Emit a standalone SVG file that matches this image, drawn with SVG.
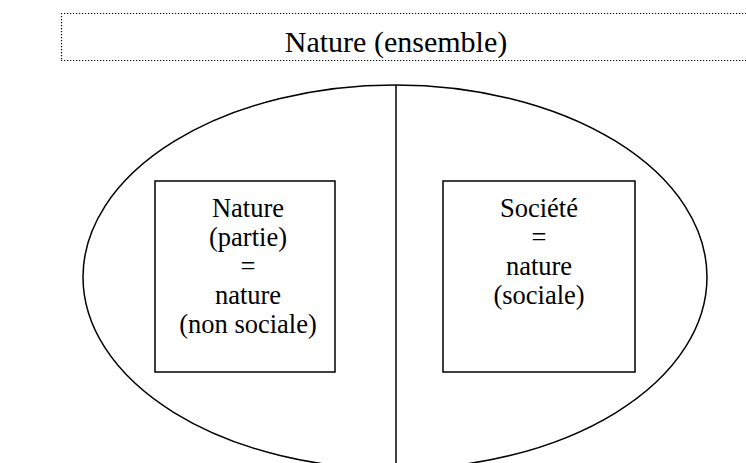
<svg xmlns="http://www.w3.org/2000/svg" width="746" height="463" viewBox="0 0 746 463">
<style>
.t{font-family:"Liberation Serif","Times New Roman","DejaVu Serif",serif;font-size:26.5px;fill:#000;text-anchor:middle}
.h{font-size:30px}
.s{fill:none;stroke:#000;stroke-width:1.5}
.d{fill:none;stroke:#000;stroke-width:1.2;stroke-dasharray:1.2 1.8}
</style>
<rect width="746" height="463" fill="#fff"/>
<g id="ensemble">
<path class="d" d="M61 13.5H746M61 60.5H746M61.5 13V61"/>
<text class="t h" x="396" y="52">Nature (ensemble)</text>
</g>
<g id="nature-ensemble-ellipse">
<ellipse class="s" cx="395" cy="277" rx="312" ry="192"/>
</g>
<g id="connectors">
<line class="s" x1="396" y1="85" x2="396" y2="463"/>
</g>
<g id="nature-partie">
<rect class="s" x="155" y="181" width="180" height="191"/>
<text class="t" x="248" y="217">Nature</text>
<text class="t" x="248" y="246">(partie)</text>
<text class="t" x="248" y="275">=</text>
<text class="t" x="248" y="304">nature</text>
<text class="t" x="248" y="333">(non sociale)</text>
</g>
<g id="societe">
<rect class="s" x="443" y="181" width="192" height="191"/>
<text class="t" x="539" y="217">Société</text>
<text class="t" x="539" y="246">=</text>
<text class="t" x="539" y="275">nature</text>
<text class="t" x="539" y="304">(sociale)</text>
</g>
</svg>
